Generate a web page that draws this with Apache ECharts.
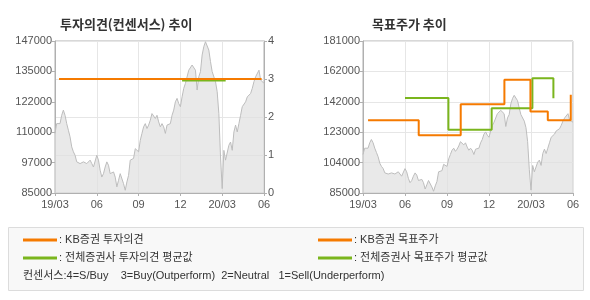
<!DOCTYPE html>
<html>
<head>
<meta charset="utf-8">
<script src="https://cdn.jsdelivr.net/npm/echarts@6/dist/echarts.min.js"></script>
<style>
html,body{margin:0;padding:0;background:#fff;}
#chart{width:590px;height:300px;}
</style>
</head>
<body>
<div id="chart"></div>
<script>
// ---- data ----
const monthTicks = ['19/03', '06', '09', '12', '20/03', '06']; // every 3 months
const leftPriceTicks = ['85000', '97000', '110000', '122000', '135000', '147000'];
const rightPriceTicks = ['85000', '104000', '123000', '142000', '162000', '181000'];
const opinionTicks = ['0', '1', '2', '3', '4'];

// share price, sampled evenly from 19/03 to 20/06 (won)
const price = [
  109300,113300,114000,113300,116700,118800,116700,113300,110600,107900,
  103800,101800,100400,97700,98400,97000,97700,97700,98400,97000,
  96300,98400,97000,95600,96300,100400,98400,94300,91500,92900,
  95600,97700,96300,92900,92900,93600,91500,87500,90200,92900,
  92900,88800,86100,89500,92200,98400,97700,99100,103100,103800,
  101800,106500,109300,112000,113300,111300,112700,114700,117400,116700,
  115400,116700,114000,112000,113300,112000,109300,112700,112700,113300,
  116700,118800,122200,123600,121500,120200,124200,127700,129700,130400,
  135100,135800,137200,137900,135100,127000,132400,134500,141300,144700,
  146700,146000,143300,138600,134500,135100,130400,126300,117400,99700,
  86800,102400,98400,97700,104500,105800,102400,109900,112700,109900,
  113300,116700,120200,120200,122200,124200,123600,125600,127700,130400,
  132400,132400,135100,131100,130400,129700
];

// time in months since 2019-03 (step change points)
const kbOpinionMonths = [0.29, 14.83];
const kbOpinion = [3, 3];
const avgOpinionMonths = [9.12, 12.25];
const avgOpinion = [2.96, 2.96];

const kbTargetMonths = [0.36, 3.98, 6.98, 10.1, 11.96, 13.2, 14.84];
const kbTarget = [131000, 121500, 141000, 156500, 136500, 131000, 147000];
const avgTargetMonths = [3.0, 6.1, 9.19, 12.1, 13.6];
const avgTarget = [145000, 125000, 138500, 157500, 144800];

// ---- chart ----
const ORANGE = '#f57a00';
const GREEN = '#7ab51d';
const FONT = "'Liberation Sans','Noto Sans CJK KR',sans-serif";
const pair = (xs, ys) => xs.map((x, i) => [x, ys[i]]);
const priceData = price.map((v, i) => [i * 15 / (price.length - 1), v]);

function xAxisFor(gi) {
  return {
    gridIndex: gi, type: 'value', min: 0, max: 15, interval: 3,
    axisLine: {show: true, lineStyle: {color: '#b0b0b0'}},
    axisTick: {show: true, length: 3, lineStyle: {color: '#b0b0b0'}},
    axisLabel: {color: '#555', fontSize: 11, fontFamily: FONT, margin: 6,
      formatter: v => monthTicks[Math.round(v / 3)]},
    splitLine: {show: true, lineStyle: {color: '#e6e6e6'}}
  };
}
function tickFmt(labels, min, step) {
  return v => labels[Math.round((v - min) / step)];
}
const legendText = {fontSize: 11, color: '#333', lineHeight: 14, fontFamily: FONT, padding: [0, 0, 0, -3]};

const chart = echarts.init(document.getElementById('chart'), null, {renderer: 'canvas'});
chart.setOption({
  animation: false,
  textStyle: {fontFamily: FONT},
  title: [
    {text: '투자의견(컨센서스) 추이', left: 55, top: 13,
     textStyle: {fontSize: 13, fontWeight: 'bold', color: '#333', fontFamily: "'Noto Sans CJK KR',sans-serif"}},
    {text: '목표주가 추이', left: 367, top: 13,
     textStyle: {fontSize: 13, fontWeight: 'bold', color: '#333', fontFamily: "'Noto Sans CJK KR',sans-serif"}}
  ],
  grid: [
    {left: 55, top: 41, width: 209, height: 152, show: true, borderColor: '#b0b0b0', borderWidth: 1},
    {left: 363, top: 41, width: 210, height: 152, show: true, borderColor: '#b0b0b0', borderWidth: 1}
  ],
  xAxis: [xAxisFor(0), xAxisFor(1)],
  yAxis: [
    {gridIndex: 0, type: 'value', min: 85000, max: 147000, interval: 12400,
     axisLine: {show: true, lineStyle: {color: '#b0b0b0'}},
     axisTick: {show: true, length: 3, lineStyle: {color: '#b0b0b0'}},
     axisLabel: {color: '#555', fontSize: 11, fontFamily: FONT, margin: 3,
       formatter: tickFmt(leftPriceTicks, 85000, 12400)},
     splitLine: {show: false}},
    {gridIndex: 0, type: 'value', position: 'right', min: 0, max: 4, interval: 1,
     axisLine: {show: true, lineStyle: {color: '#b0b0b0'}},
     axisTick: {show: true, length: 3, lineStyle: {color: '#b0b0b0'}},
     axisLabel: {color: '#555', fontSize: 11, fontFamily: FONT, margin: 4,
       formatter: tickFmt(opinionTicks, 0, 1)},
     splitLine: {show: true, lineStyle: {color: '#e6e6e6'}}},
    {gridIndex: 1, type: 'value', min: 85000, max: 181000, interval: 19200,
     axisLine: {show: true, lineStyle: {color: '#b0b0b0'}},
     axisTick: {show: true, length: 3, lineStyle: {color: '#b0b0b0'}},
     axisLabel: {color: '#555', fontSize: 11, fontFamily: FONT, margin: 3,
       formatter: tickFmt(rightPriceTicks, 85000, 19200)},
     splitLine: {show: true, lineStyle: {color: '#e6e6e6'}}}
  ],
  legend: [
    {left: 23, top: 233, orient: 'vertical', padding: 0, itemGap: 4, itemWidth: 34, itemHeight: 3,
     icon: 'rect', selectedMode: false, data: ['KB증권 투자의견', '전체증권사 투자의견 평균값'],
     formatter: n => ': ' + n, textStyle: legendText},
    {left: 318, top: 233, orient: 'vertical', padding: 0, itemGap: 4, itemWidth: 34, itemHeight: 3,
     icon: 'rect', selectedMode: false, data: ['KB증권 목표주가', '전체증권사 목표주가 평균값'],
     formatter: n => ': ' + n, textStyle: legendText}
  ],
  graphic: [
    {type: 'rect', z: -10, shape: {x: 8.5, y: 227.5, width: 575, height: 63},
     style: {fill: '#f8f8f8', stroke: '#dcdcdc', lineWidth: 1}},
    {type: 'text', left: 23, top: 270,
     style: {text: '컨센서스:4=S/Buy    3=Buy(Outperform)  2=Neutral   1=Sell(Underperform)',
       fill: '#333', font: "11px 'Liberation Sans','Noto Sans CJK KR',sans-serif"}}
  ],
  series: [
    {name: '주가', type: 'line', xAxisIndex: 0, yAxisIndex: 0, data: priceData, symbol: 'none',
     lineStyle: {color: '#bdbdbd', width: 1}, areaStyle: {color: '#dfdfdf', origin: 'start'}, z: 1, silent: true},
    {name: '주가 ', type: 'line', xAxisIndex: 1, yAxisIndex: 2, data: priceData, symbol: 'none',
     lineStyle: {color: '#bdbdbd', width: 1}, areaStyle: {color: '#dfdfdf', origin: 'start'}, z: 1, silent: true},
    {name: '전체증권사 투자의견 평균값', type: 'line', xAxisIndex: 0, yAxisIndex: 1, step: 'end',
     data: pair(avgOpinionMonths, avgOpinion), symbol: 'none', color: GREEN,
     lineStyle: {color: GREEN, width: 2}, z: 3},
    {name: 'KB증권 투자의견', type: 'line', xAxisIndex: 0, yAxisIndex: 1, step: 'end',
     data: pair(kbOpinionMonths, kbOpinion), symbol: 'none', color: ORANGE,
     lineStyle: {color: ORANGE, width: 2}, z: 4},
    {name: '전체증권사 목표주가 평균값', type: 'line', xAxisIndex: 1, yAxisIndex: 2, step: 'end',
     data: pair(avgTargetMonths, avgTarget), symbol: 'none', color: GREEN,
     lineStyle: {color: GREEN, width: 2}, z: 3},
    {name: 'KB증권 목표주가', type: 'line', xAxisIndex: 1, yAxisIndex: 2, step: 'end',
     data: pair(kbTargetMonths, kbTarget), symbol: 'none', color: ORANGE,
     lineStyle: {color: ORANGE, width: 2}, z: 4}
  ]
});
</script>
</body>
</html>
